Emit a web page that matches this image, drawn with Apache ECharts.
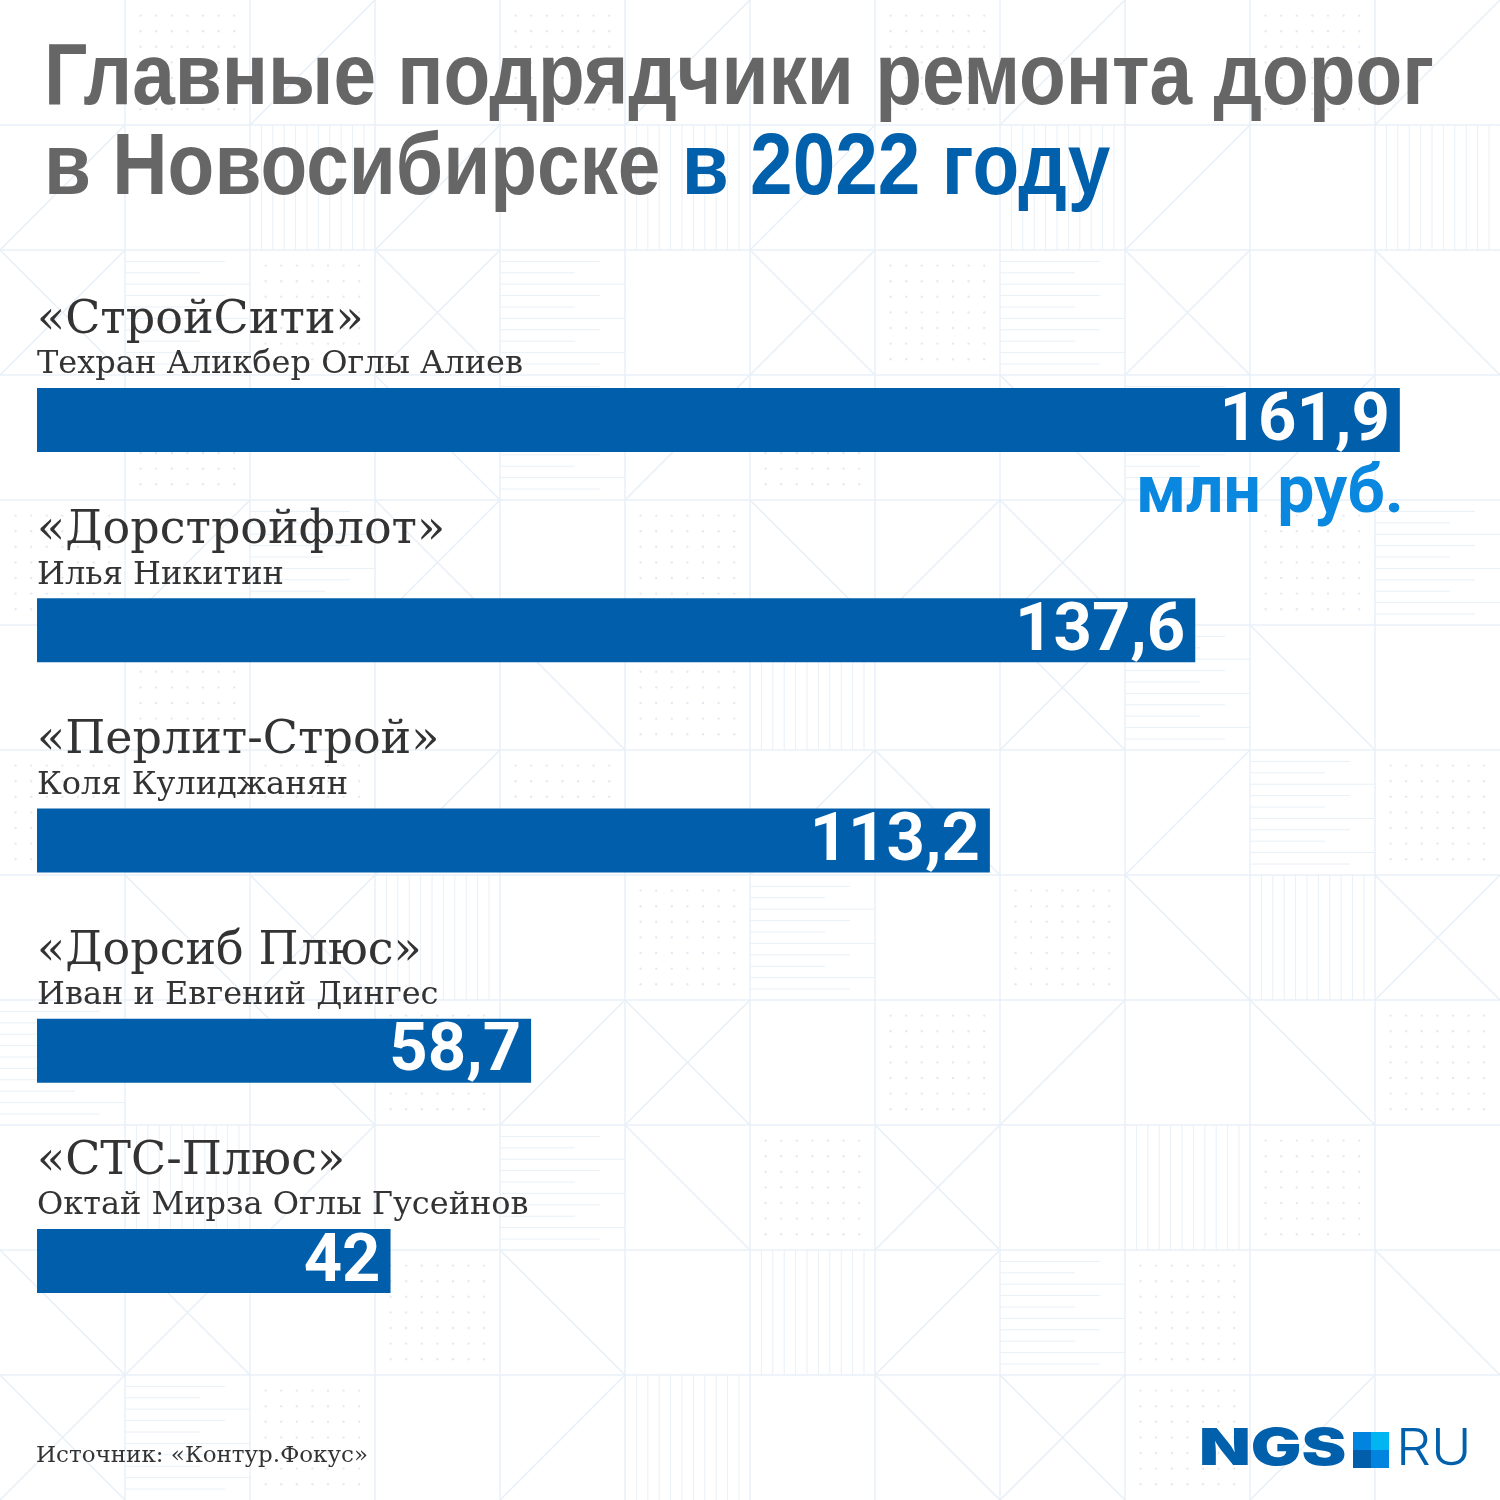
<!DOCTYPE html>
<html>
<head>
<meta charset="utf-8">
<script src="https://cdn.jsdelivr.net/npm/echarts@6/dist/echarts.min.js"></script>
<style>
  html, body { margin: 0; padding: 0; background: #fff; }
  #main { width: 1500px; height: 1500px; }
</style>
</head>
<body>
<div id="main"></div>
<script>
// данные
const companies = ['«СтройСити»', '«Дорстройфлот»', '«Перлит-Строй»', '«Дорсиб Плюс»', '«СТС-Плюс»'];
const owners = ['Техран Аликбер Оглы Алиев', 'Илья Никитин', 'Коля Кулиджанян', 'Иван и Евгений Дингес', 'Октай Мирза Оглы Гусейнов'];
const amounts = [161.9, 137.6, 113.2, 58.7, 42];

const barColor = '#005eaa';
const lineColor = '#e8f0f7';
const titleFont = 'bold 88px "Liberation Sans", sans-serif';

// фон из плиток 125px
function backgroundTiles() {
  const els = [];
  const T = 125;
  for (let i = 1; i < 12; ++i) {
    els.push({ type: 'line', shape: { x1: i * T, y1: 0, x2: i * T, y2: 1500 }, style: { stroke: lineColor, lineWidth: 1.5 }, silent: true, z: -10 });
    els.push({ type: 'line', shape: { x1: 0, y1: i * T, x2: 1500, y2: i * T }, style: { stroke: lineColor, lineWidth: 1.5 }, silent: true, z: -10 });
  }
  // типы плиток: 0 пусто, 1 диагональ /, 2 диагональ \, 3 точки, 4 верт. полосы, 5 гориз. полосы, 6 крест
  const pattern = [
    [0, 3, 1, 0, 3, 1, 0, 3, 1, 0, 3, 1],
    [1, 0, 4, 1, 0, 4, 1, 0, 4, 1, 0, 4],
    [6, 5, 3, 6, 5, 0, 6, 3, 5, 6, 0, 2],
    [0, 3, 0, 2, 5, 1, 3, 0, 2, 5, 1, 0],
    [3, 1, 5, 6, 0, 3, 2, 1, 6, 0, 3, 5],
    [0, 3, 0, 0, 2, 3, 4, 0, 6, 5, 2, 0],
    [3, 0, 3, 1, 3, 0, 1, 2, 0, 1, 5, 3],
    [0, 2, 6, 4, 0, 3, 5, 0, 3, 2, 4, 6],
    [5, 0, 2, 3, 1, 6, 0, 3, 1, 0, 2, 3],
    [0, 4, 1, 0, 5, 2, 3, 6, 0, 4, 3, 0],
    [2, 6, 0, 3, 2, 0, 4, 1, 5, 3, 0, 2],
    [6, 5, 3, 0, 1, 4, 0, 2, 6, 3, 1, 0]
  ];
  for (let r = 0; r < 12; ++r) {
    for (let c = 0; c < 12; ++c) {
      const x = c * T, y = r * T, t = pattern[r][c];
      const st = { stroke: lineColor, lineWidth: 1.5 };
      if (t === 1) {
        els.push({ type: 'line', shape: { x1: x, y1: y + T, x2: x + T, y2: y }, style: st, silent: true, z: -10 });
      } else if (t === 2) {
        els.push({ type: 'line', shape: { x1: x, y1: y, x2: x + T, y2: y + T }, style: st, silent: true, z: -10 });
      } else if (t === 6) {
        els.push({ type: 'line', shape: { x1: x, y1: y, x2: x + T, y2: y + T }, style: st, silent: true, z: -10 });
        els.push({ type: 'line', shape: { x1: x, y1: y + T, x2: x + T, y2: y }, style: st, silent: true, z: -10 });
      } else if (t === 3) {
        for (let a = 1; a < 8; ++a) {
          for (let b = 1; b < 8; ++b) {
            els.push({ type: 'circle', shape: { cx: x + a * 15.6, cy: y + b * 15.6, r: 1.2 }, style: { fill: '#e2ebf4' }, silent: true, z: -10 });
          }
        }
      } else if (t === 4) {
        for (let a = 1; a < 11; ++a) {
          els.push({ type: 'line', shape: { x1: x + a * 11.4, y1: y, x2: x + a * 11.4, y2: y + T }, style: { stroke: lineColor, lineWidth: 1 }, silent: true, z: -10 });
        }
      } else if (t === 5) {
        for (let a = 1; a < 11; ++a) {
          els.push({ type: 'line', shape: { x1: x, y1: y + a * 11.4, x2: x + T - (a % 3) * 25, y2: y + a * 11.4 }, style: { stroke: lineColor, lineWidth: 1 }, silent: true, z: -10 });
        }
      }
    }
  }
  return els;
}

const myChart = echarts.init(document.getElementById('main'));

const option = {
  backgroundColor: '#fff',
  animation: false,
  grid: { left: 37, right: 32, top: 315, bottom: 134 },
  xAxis: {
    type: 'value', min: 0, max: 170,
    axisLine: { show: false }, axisTick: { show: false }, axisLabel: { show: false }, splitLine: { show: false }
  },
  yAxis: {
    type: 'category', inverse: true, data: companies,
    axisLine: { show: false }, axisTick: { show: false }, axisLabel: { show: false }, splitLine: { show: false }
  },
  series: [{
    type: 'bar',
    data: amounts,
    barWidth: 64,
    itemStyle: { color: barColor },
    label: {
      show: true,
      position: 'insideRight',
      distance: 10,
      offset: [0, 3],
      color: '#fff',
      fontFamily: 'Roboto',
      fontWeight: 'bold',
      fontSize: 67,
      formatter: p => String(p.value).replace('.', ',')
    },
    z: 3
  }, {
    type: 'bar',
    data: amounts,
    barWidth: 64,
    barGap: '-100%',
    silent: true,
    itemStyle: { color: 'rgba(0,0,0,0)' },
    label: {
      show: true,
      position: [0, -92],
      align: 'left',
      verticalAlign: 'top',
      formatter: p => `{a|${companies[p.dataIndex]}}\n{b|${owners[p.dataIndex]}}`,
      rich: {
        a: { fontFamily: 'DejaVu Serif', fontSize: 46, lineHeight: 50, color: '#333' },
        b: { fontFamily: 'DejaVu Serif', fontSize: 32, lineHeight: 38, color: '#333' }
      }
    },
    z: 2
  }],
  graphic: backgroundTiles().concat([
    {
      type: 'text', x: 44, y: 36, scaleX: 0.87, z: 10,
      style: { text: 'Главные подрядчики ремонта дорог', font: titleFont, fill: '#666666' }
    },
    {
      type: 'text', x: 44, y: 126, scaleX: 0.87, z: 10,
      style: {
        text: '{g|в Новосибирске\u00a0}{b|в 2022 году}',
        rich: {
          g: { font: titleFont, fill: '#666666' },
          b: { font: titleFont, fill: '#0060ac' }
        }
      }
    },
    {
      type: 'text', right: 96, top: 462, z: 10,
      style: { text: 'млн руб.', font: 'bold 66px Roboto', fill: '#0a88e0', align: 'right' }
    },
    {
      type: 'text', left: 36, top: 1445, z: 10,
      style: { text: 'Источник: «Контур.Фокус»', font: '23px "DejaVu Serif"', fill: '#333' }
    },
    // логотип
    {
      type: 'text', x: 1199, y: 1424, scaleX: 1.32, z: 10,
      style: { text: 'NGS', font: '900 51px Inter', fill: '#0060ac' }
    },
    { type: 'rect', shape: { x: 1353, y: 1432, width: 18, height: 18 }, style: { fill: '#0084e0' }, z: 10 },
    { type: 'rect', shape: { x: 1371, y: 1432, width: 18, height: 18 }, style: { fill: '#00b5f0' }, z: 10 },
    { type: 'rect', shape: { x: 1353, y: 1450, width: 18, height: 18 }, style: { fill: '#005eaa' }, z: 10 },
    { type: 'rect', shape: { x: 1371, y: 1450, width: 18, height: 18 }, style: { fill: '#0084e0' }, z: 10 },
    {
      type: 'text', x: 1396, y: 1424, scaleX: 1.08, z: 10,
      style: { text: 'RU', font: '300 51px Inter', fill: '#0060ac' }
    }
  ])
};

myChart.setOption(option);
</script>
</body>
</html>
